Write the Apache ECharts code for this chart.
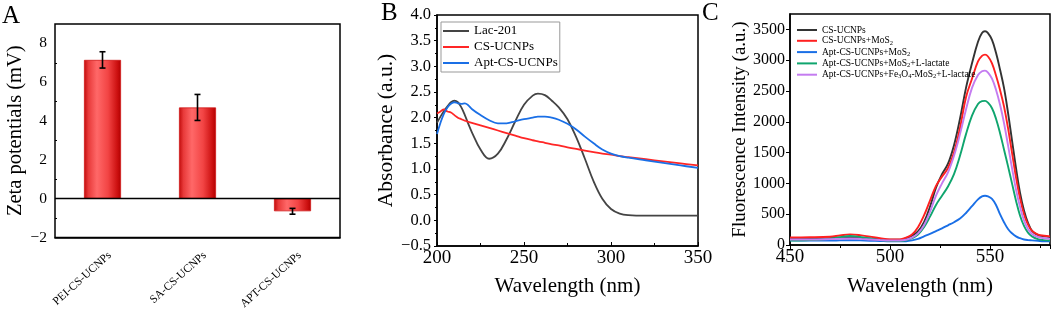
<!DOCTYPE html>
<html>
<head>
<meta charset="utf-8">
<script src="https://cdn.jsdelivr.net/npm/echarts@6/dist/echarts.min.js"></script>
<style>
html,body{margin:0;padding:0;background:#fff;}
#chart{width:1052px;height:312px;}
</style>
</head>
<body>
<div id="chart"></div>
<script>
// ---------- Panel A data ----------
const zetaCategories = ['PEI-CS-UCNPs', 'SA-CS-UCNPs', 'APT-CS-UCNPs'];
const zetaValues = [7.15, 4.7, -0.65];
const zetaErrors = [0.42, 0.67, 0.15];

// ---------- Panel B data ----------
const absX = [200,202,204,206,208,210,212,214,216,218,220,225,230,235,240,245,250,255,258,262,266,270,275,280,285,290,295,300,305,310,320,330,340,350];
const absLac = [1.9,2.02,2.13,2.22,2.3,2.33,2.3,2.2,2.05,1.88,1.72,1.38,1.2,1.3,1.58,1.93,2.25,2.43,2.47,2.44,2.33,2.2,1.97,1.62,1.2,0.76,0.42,0.22,0.13,0.1,0.09,0.09,0.09,0.09];
const absCS = [2.08,2.12,2.16,2.12,2.1,2.05,2.0,1.97,1.94,1.92,1.9,1.85,1.8,1.75,1.7,1.65,1.6,1.56,1.54,1.51,1.48,1.46,1.42,1.39,1.36,1.33,1.3,1.28,1.25,1.23,1.19,1.15,1.11,1.07];
const absApt = [1.68,1.9,2.08,2.2,2.27,2.3,2.28,2.27,2.28,2.24,2.17,2.05,1.95,1.89,1.89,1.93,1.97,2.0,2.02,2.02,2.0,1.96,1.88,1.77,1.63,1.5,1.38,1.3,1.25,1.22,1.17,1.12,1.07,1.02];
const absNames = ['Lac-201', 'CS-UCNPs', 'Apt-CS-UCNPs'];

// ---------- Panel C data ----------
const flX = [450,460,470,475,480,485,490,495,500,505,508,511,514,517,520,523,526,529,532,535,538,541,544,546,547.5,549,551,553,555,557,559,561,563,565,567,569,571,574,577,580];
const flCS = [105,105,110,115,120,115,105,95,85,85,110,150,220,370,620,930,1150,1320,1620,2050,2550,2950,3300,3440,3470,3440,3330,3120,2850,2550,2150,1700,1250,850,560,360,230,160,140,130];
const flCSMoS2 = [122,125,135,155,172,160,135,110,92,92,120,170,290,480,720,960,1110,1250,1500,1900,2400,2700,2980,3070,3090,3060,2950,2750,2520,2250,1900,1500,1100,760,500,330,230,170,150,140];
const flAptMoS2 = [75,72,72,75,78,75,70,65,60,60,62,75,100,140,180,225,270,320,370,430,520,630,740,790,800,790,750,650,500,370,260,190,140,110,90,80,75,68,62,60];
const flAptMoS2Lac = [72,80,100,125,145,130,105,80,65,65,75,110,170,290,460,650,800,950,1150,1450,1800,2100,2290,2335,2340,2310,2220,2050,1820,1550,1280,1000,720,480,310,200,140,95,80,75];
const flAptFeMoS2Lac = [90,90,95,100,105,100,90,80,72,72,85,120,190,320,540,800,1000,1180,1450,1800,2200,2550,2760,2820,2830,2800,2700,2520,2280,1980,1620,1250,900,620,400,260,180,130,110,100];
const flKeys = ['c1','c2','c3','c4','c5'];
const flLabels = ['CS-UCNPs', 'CS-UCNPs+MoS{s|2}', 'Apt-CS-UCNPs+MoS{s|2}', 'Apt-CS-UCNPs+MoS{s|2}+L-lactate', 'Apt-CS-UCNPs+Fe{s|3}O{s|4}-MoS{s|2}+L-lactate'];

// panel letters
const panelLetters = ['A', 'B', 'C'];

const SERIF = "'Liberation Serif','Times New Roman',serif";
const zip = (xs, ys) => xs.map((x, i) => [x, ys[i]]);
const minusFmt = d => v => (v < 0 ? '\u2212' + Math.abs(v).toFixed(d) : v.toFixed(d));

const barGradient = {
  type: 'linear', x: 0, y: 0, x2: 1, y2: 0,
  colorStops: [
    {offset: 0, color: '#c00a0a'},
    {offset: 0.12, color: '#e83a3a'},
    {offset: 0.35, color: '#ff6868'},
    {offset: 0.65, color: '#f24444'},
    {offset: 0.9, color: '#cc1010'},
    {offset: 1, color: '#b00000'}
  ]
};

const chart = echarts.init(document.getElementById('chart'), null, {renderer: 'canvas'});

const axisLineStyle = {color: '#000', width: 1.5};
const yLabel = (size, margin, extra) => Object.assign({color: '#000', fontFamily: SERIF, fontSize: size, margin: margin}, extra || {});
const nameTS = size => ({color: '#000', fontFamily: SERIF, fontSize: size});

const option = {
  animation: false,
  backgroundColor: '#fff',
  textStyle: {fontFamily: SERIF},
  title: panelLetters.map((t, i) => ({
    text: t,
    left: [2, 381, 702][i],
    top: [4, 1, 1][i],
    padding: 0,
    textStyle: {fontFamily: SERIF, fontSize: 25, fontWeight: 'normal', color: '#000'}
  })),
  grid: [
    {left: 55, top: 24, width: 285, height: 214, show: true, borderColor: '#000', borderWidth: 1.5},
    {left: 437, top: 15, width: 261, height: 231, show: true, borderColor: '#000', borderWidth: 1.5},
    {left: 790, top: 14, width: 260, height: 231, show: true, borderColor: '#000', borderWidth: 1.5}
  ],
  legend: [
    {
      data: absNames,
      orient: 'vertical', left: 441, top: 22,
      padding: [2, 2, 2, 2],
      borderColor: '#999', borderWidth: 1,
      icon: 'rect',
      itemWidth: 26, itemHeight: 2, itemGap: 2,
      textStyle: {fontFamily: SERIF, fontSize: 13, color: '#000', lineHeight: 14}
    },
    {
      data: flKeys,
      orient: 'vertical', left: 797, top: 25,
      padding: 0,
      icon: 'rect',
      itemWidth: 20, itemHeight: 2, itemGap: 0.3,
      formatter: name => flLabels[flKeys.indexOf(name)],
      textStyle: {
        fontFamily: SERIF, fontSize: 9.5, color: '#000', lineHeight: 10,
        rich: {s: {fontFamily: SERIF, fontSize: 6.5, color: '#000', padding: [4, 0, 0, 0], lineHeight: 10}}
      }
    }
  ],
  xAxis: [
    {
      gridIndex: 0, type: 'category', data: zetaCategories,
      axisLine: {lineStyle: axisLineStyle, onZero: false}, axisTick: {show: false},
      axisLabel: {
        color: '#000', fontFamily: SERIF, fontSize: 11.5, rotate: 42, margin: 8,
        formatter: v => '{t|' + v + '}',
        rich: {t: {fontFamily: SERIF, fontSize: 11.5, color: '#000', lineHeight: 34, verticalAlign: 'bottom'}}
      }
    },
    {
      gridIndex: 1, type: 'value', min: 200, max: 350, interval: 50,
      name: 'Wavelength (nm)', nameLocation: 'middle', nameGap: 30,
      nameTextStyle: nameTS(21),
      axisLine: {lineStyle: axisLineStyle, onZero: false},
      axisTick: {inside: true, length: 4, lineStyle: {color: '#000', width: 1}},
      minorTick: {show: true, splitNumber: 2, length: 3, lineStyle: {color: '#000'}},
      splitLine: {show: false},
      axisLabel: yLabel(19, 3, {formatter: v => String(v)})
    },
    {
      gridIndex: 2, type: 'value', min: 450, max: 580, interval: 50,
      name: 'Wavelength (nm)', nameLocation: 'middle', nameGap: 31,
      nameTextStyle: nameTS(21),
      axisLine: {lineStyle: axisLineStyle, onZero: false},
      axisTick: {inside: false, length: 4, lineStyle: {color: '#000', width: 1}},
      minorTick: {show: true, splitNumber: 2, length: 3, lineStyle: {color: '#000'}},
      splitLine: {show: false},
      axisLabel: yLabel(19, 3, {showMaxLabel: false, formatter: v => String(v)})
    }
  ],
  yAxis: [
    {
      gridIndex: 0, type: 'value', min: -2, max: 9, interval: 2,
      name: 'Zeta potentials (mV)', nameLocation: 'middle', nameGap: 25,
      nameTextStyle: nameTS(20.5),
      axisLine: {lineStyle: axisLineStyle, onZero: false},
      axisTick: {inside: true, length: 3, lineStyle: {color: '#000'}},
      minorTick: {show: true, splitNumber: 2, length: 2, lineStyle: {color: '#000'}},
      splitLine: {show: false},
      axisLabel: yLabel(15.5, 8, {showMaxLabel: false, formatter: minusFmt(0)})
    },
    {
      gridIndex: 1, type: 'value', min: -0.5, max: 4.0, interval: 0.5,
      name: 'Absorbance (a.u.)', nameLocation: 'middle', nameGap: 38,
      nameTextStyle: nameTS(21.5),
      axisLine: {lineStyle: axisLineStyle, onZero: false},
      axisTick: {inside: false, length: 3, lineStyle: {color: '#000'}},
      minorTick: {show: true, splitNumber: 2, length: 2, lineStyle: {color: '#000'}},
      splitLine: {show: false},
      axisLabel: yLabel(16.5, 6, {formatter: minusFmt(1)})
    },
    {
      gridIndex: 2, type: 'value', min: 0, max: 3750, interval: 500,
      name: 'Fluorescence Intensity (a.u.)', nameLocation: 'middle', nameGap: 40,
      nameTextStyle: nameTS(19),
      axisLine: {lineStyle: axisLineStyle, onZero: false},
      axisTick: {inside: false, length: 4, lineStyle: {color: '#000'}},
      minorTick: {show: false},
      splitLine: {show: false},
      axisLabel: yLabel(16, 5, {showMaxLabel: false, formatter: v => String(v)})
    }
  ],
  series: [
    {
      type: 'bar', xAxisIndex: 0, yAxisIndex: 0,
      data: zetaValues,
      barWidth: '39%',
      itemStyle: {color: barGradient, borderColor: '#d01818', borderWidth: 0.8},
      markLine: {
        silent: true, symbol: 'none', animation: false,
        label: {show: false},
        lineStyle: {color: '#000', width: 1.3, type: 'solid'},
        data: [{yAxis: 0}]
      }
    },
    {
      type: 'custom', xAxisIndex: 0, yAxisIndex: 0,
      data: zetaValues.map((v, i) => [i, v - zetaErrors[i], v + zetaErrors[i]]),
      renderItem: (params, api) => {
        const lo = api.coord([api.value(0), api.value(1)]);
        const hi = api.coord([api.value(0), api.value(2)]);
        const w = 3;
        const st = {stroke: '#000', lineWidth: 1.6};
        return {
          type: 'group',
          children: [
            {type: 'line', shape: {x1: lo[0], y1: lo[1], x2: hi[0], y2: hi[1]}, style: st},
            {type: 'line', shape: {x1: lo[0] - w, y1: lo[1], x2: lo[0] + w, y2: lo[1]}, style: st},
            {type: 'line', shape: {x1: hi[0] - w, y1: hi[1], x2: hi[0] + w, y2: hi[1]}, style: st}
          ]
        };
      },
      z: 5
    },
    {name: absNames[0], type: 'line', xAxisIndex: 1, yAxisIndex: 1, data: zip(absX, absLac), smooth: 0.4, symbol: 'none', lineStyle: {color: '#444', width: 1.8}, itemStyle: {color: '#444'}},
    {name: absNames[1], type: 'line', xAxisIndex: 1, yAxisIndex: 1, data: zip(absX, absCS), smooth: 0.4, symbol: 'none', lineStyle: {color: '#ff2626', width: 1.8}, itemStyle: {color: '#ff2626'}},
    {name: absNames[2], type: 'line', xAxisIndex: 1, yAxisIndex: 1, data: zip(absX, absApt), smooth: 0.4, symbol: 'none', lineStyle: {color: '#1a6fe6', width: 1.8}, itemStyle: {color: '#1a6fe6'}},
    {name: flKeys[0], type: 'line', xAxisIndex: 2, yAxisIndex: 2, data: zip(flX, flCS), smooth: 0.4, symbol: 'none', lineStyle: {color: '#333', width: 1.9}, itemStyle: {color: '#333'}},
    {name: flKeys[1], type: 'line', xAxisIndex: 2, yAxisIndex: 2, data: zip(flX, flCSMoS2), smooth: 0.4, symbol: 'none', lineStyle: {color: '#ff2020', width: 1.9}, itemStyle: {color: '#ff2020'}},
    {name: flKeys[2], type: 'line', xAxisIndex: 2, yAxisIndex: 2, data: zip(flX, flAptMoS2), smooth: 0.4, symbol: 'none', lineStyle: {color: '#1a6fe6', width: 1.9}, itemStyle: {color: '#1a6fe6'}},
    {name: flKeys[3], type: 'line', xAxisIndex: 2, yAxisIndex: 2, data: zip(flX, flAptMoS2Lac), smooth: 0.4, symbol: 'none', lineStyle: {color: '#0fa56e', width: 1.9}, itemStyle: {color: '#0fa56e'}},
    {name: flKeys[4], type: 'line', xAxisIndex: 2, yAxisIndex: 2, data: zip(flX, flAptFeMoS2Lac), smooth: 0.4, symbol: 'none', lineStyle: {color: '#c47cf0', width: 1.9}, itemStyle: {color: '#c47cf0'}}
  ]
};
chart.setOption(option);
</script>
</body>
</html>
